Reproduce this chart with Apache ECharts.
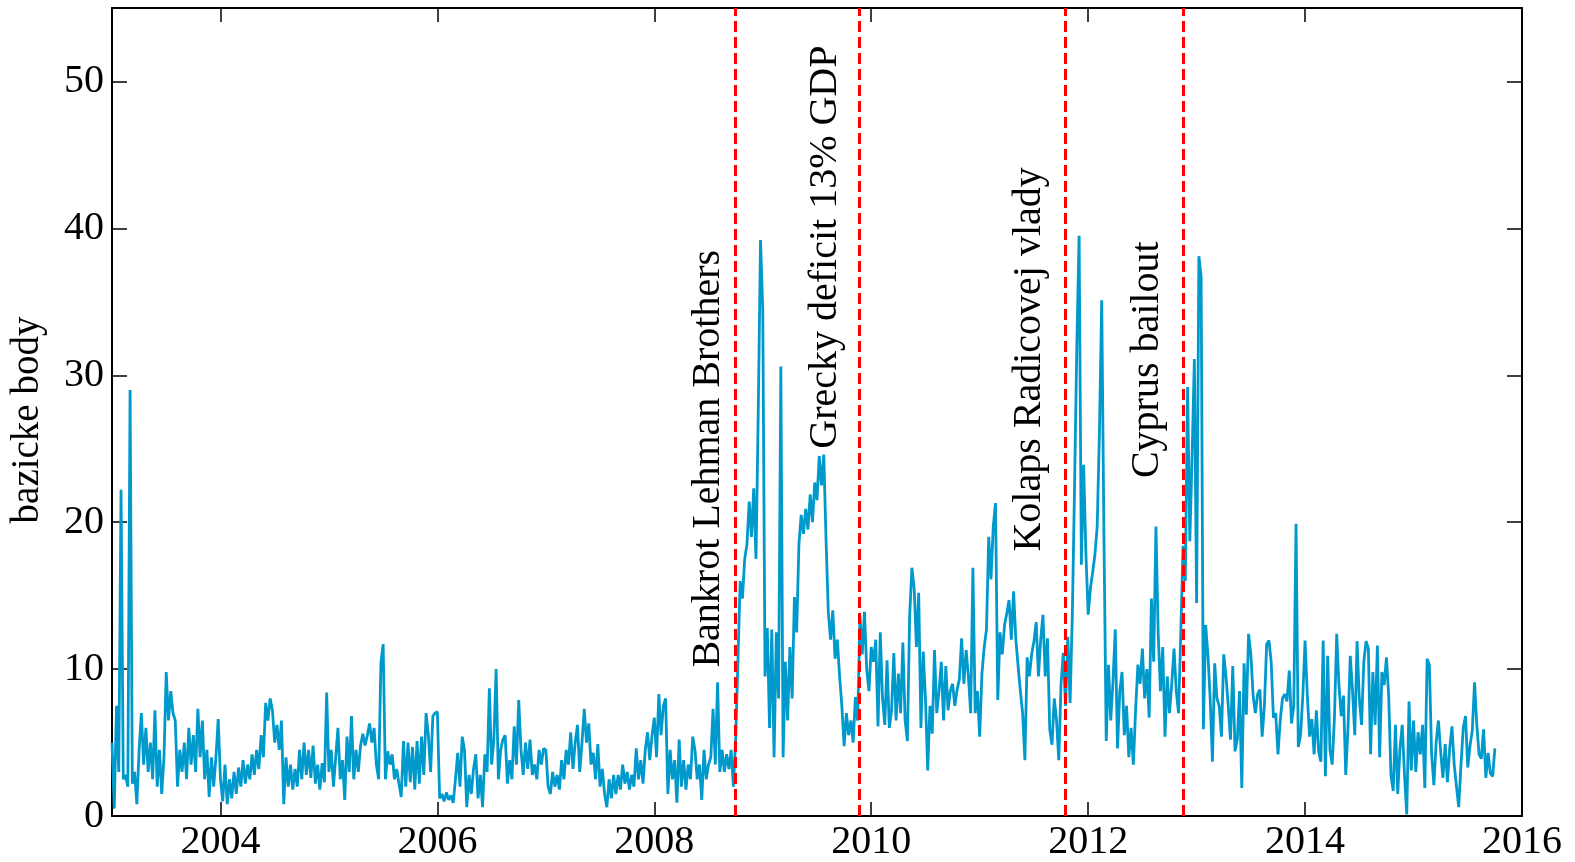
<!DOCTYPE html>
<html><head><meta charset="utf-8">
<script src="https://cdn.jsdelivr.net/npm/echarts@6/dist/echarts.min.js"></script>
<style>html,body{margin:0;padding:0;background:#fff}#c{width:1575px;height:862px}</style>
</head><body><div id="c"></div>
<script>
// ---- data (48 samples per year) ----
const startYear = 2003;
const stepsPerYear = 48;
const y2003 = [5,0.5,7.5,3,22.2,2.5,2.8,2,29,2.2,3,0.8,4.5,7,3.5,6,3,5,2.5,7.2,2,4.5,1.5,4,9.8,6.5,8.5,7,6.5,2,4.5,3,5,2.5,6,3.5,5.5,3,7.3,4,6.5,2.5,4.5,1.3,4,2,4,6.6];
const y2004 = [2.5,1,3.5,0.8,2.5,1.2,3,1.5,3.3,2,3.8,2.2,3.5,2.5,4.2,2.8,4.5,3.2,5.5,4,7.7,6.5,8,7.2,5,6.2,4.5,6.5,0.8,4,2,3.5,1.8,3.2,2,4.5,2.5,5,2.8,4.5,2.6,4.8,2.2,3.5,1.8,3.6,2.3,8.4];
const y2005 = [3,4.5,2,4,6,2.5,3.8,1.1,5.4,3,6.8,2.5,4.5,3,4.8,5.6,4.8,5.5,6.3,5,6,3.5,2.5,10.4,11.7,2.5,4.4,3.5,4.2,2.5,3.2,2.2,1.3,5.1,2,5,2.3,4.7,1.8,5.1,2.2,5.4,2.8,7,5.5,3,6.8,7];
const y2006 = [7.1,1.2,1.5,1,1.6,1.1,1.4,0.9,2.5,4.3,2,5.4,4.5,0.6,2.8,1.5,3.2,4.2,1.2,2.8,0.6,4.2,3,8.7,3.5,5.2,10,2.5,4.5,5.2,5.5,2.2,3.8,2.5,6.1,3.5,7.9,4.5,2.8,5,3.2,5.2,2.8,3.5,2.5,4.5,3.5,4.6];
const y2007 = [4.5,2,1.5,3,2,2.8,1.8,3.8,2.5,4.5,3.5,5.7,3.2,5,6.2,3,5,7.3,5,6.3,3.5,4.3,2.5,4.9,2,3.2,1.5,0.6,2.5,1.2,2.8,1.5,2.8,1.8,3.5,2.2,3,1.8,2.8,2,4.6,2.5,3.8,2.2,4.5,5.7,3.8,5.5];
const y2008 = [6.7,4,8.3,5.5,7.5,8,1.5,4.5,2.5,3.8,0.9,5.2,2,3.8,1.8,3.5,2.5,5.4,4.5,2.5,3.5,1.1,4.5,2.5,3.5,4,7.3,3.5,9.1,3,4.5,3,4.2,3.2,4.5,2,5.2,10.5,16,14.8,17.5,18.5,21.4,19,22.3,17.5,27.5,39.2];
const y2009 = [34.5,9.5,12.8,6,12.7,4,12.5,8,30.6,4,10.5,6.5,11.5,8,14.9,12.5,18.5,20.5,19.2,20.9,19.5,21.9,20,22.7,21.5,24.5,22.5,24.6,18.8,13.9,12,14,10.7,12,9.5,7.5,4.75,7,5.5,6.5,5,8.1,6.5,13.6,11,13.9,10,8.5];
const y2010 = [11.5,10.5,12,6.1,12.5,8,6.2,10.6,6,7.2,11.1,6.5,9.7,7,11.8,6.5,5.1,13.6,16.9,15.5,11.5,15.2,6,11.2,8,3.1,7.5,5.6,11.3,7,8.5,10.5,6.5,10.2,7.2,8.5,9,7.5,8.6,9.3,12.1,9,11.3,9.5,7,16.9,7,8.5];
const y2011 = [5.4,9.7,11.5,12.7,19,16.1,19.7,21.3,7.9,12.5,11,13,13.8,14.7,12,15.3,12,10.2,8.5,7,3.8,10.8,9.5,11,11.9,13.2,9.5,12,13.7,9.5,12.1,5.9,4.85,8,6.5,3.8,9,11.1,7.5,12.2,7.7,13.7,22.6,32.2,39.5,17.1,23.9,17.9];
const y2012 = [13.7,15.5,16.6,17.8,19.7,26.2,35.1,18.9,5.1,10.3,6.5,9.2,12.7,4.6,8.5,9.8,5.5,7.5,4,6,3.5,7.2,10.3,9,11.4,8,10,6.7,14.8,10.5,19.7,12.4,8.5,11.5,5.4,9.5,7,9,11.4,8.5,7,12.5,18.4,16,29.2,18.7,24.5,31.1];
const y2013 = [14.5,38.1,36.7,5.9,13,11,8,3.7,10.4,8,7.5,5.4,11,9.5,7.5,5.2,10.2,4.4,5.2,8.5,1.9,10.4,6.9,12.4,11,8.2,7,8.3,8.6,5.4,7.5,11.7,11.95,10.5,6.7,7,4.2,6.5,8,8.3,7.8,9.9,6.3,7.5,19.9,4.7,5.5,8.2];
const y2014 = [11.95,8.2,5.4,6.6,4.2,7.2,4.4,3.7,11.95,2.7,10.9,4.5,3.5,6.7,12.4,8.9,6.8,8.2,2.8,6,10.9,8.5,5.5,11.9,8,6.2,10.5,11.9,11.4,4.2,9.8,6.2,11.6,4,9.8,8.9,10.8,8.2,2.8,1.7,6.2,1.5,4.6,6.2,2.8,0.1,7.8,3.1];
const y2015 = [6.5,3,5.7,4.2,6.2,1.9,10.7,10.3,4.2,2.1,5,6.5,4.4,2.6,4.9,2.3,4.6,6.1,3.5,2,0.6,3.5,6,6.8,3.3,4.8,5.8,9.1,6.2,4.2,3.9,5.9,2.6,4.3,2.9,2.7,4.6];

const xTicks = [2004, 2006, 2008, 2010, 2012, 2014, 2016];
const yTicks = [0, 10, 20, 30, 40, 50];
const eventNames = ['Bankrot Lehman Brothers', 'Grecky deficit 13% GDP', 'Kolaps Radicovej vlady', 'Cyprus bailout'];
const eventDates = [2008.749, 2009.886, 2011.794, 2012.885];
const eventLabelValues = [10.1, 25.0, 18.0, 23.0];

// ---- build series ----
const yearBlocks = [y2003, y2004, y2005, y2006, y2007, y2008, y2009, y2010, y2011, y2012, y2013, y2014, y2015];
const seriesData = [];
yearBlocks.forEach((arr, k) => arr.forEach((v, i) => seriesData.push([startYear + k + i / stepsPerYear, v])));

const FONT = 'Liberation Serif';
const axisLineStyle = { color: '#000', width: 2 };
const tickStyle = { color: '#000', width: 1.5 };

const chart = echarts.init(document.getElementById('c'), null, { renderer: 'canvas' });
const option = {
  animation: false,
  backgroundColor: '#fff',
  grid: { left: 110, right: 53, top: 8, bottom: 46 },
  xAxis: [{
    type: 'value', min: 2003, max: 2016, position: 'bottom',
    axisLine: { show: true, onZero: false, lineStyle: axisLineStyle },
    axisTick: { show: true, inside: true, length: 14, customValues: xTicks, lineStyle: tickStyle },
    axisLabel: { show: true, customValues: xTicks, margin: 6, color: '#000', fontFamily: FONT, fontSize: 40, formatter: v => String(v) },
    splitLine: { show: false }
  }, {
    type: 'value', min: 2003, max: 2016, position: 'top',
    axisLine: { show: true, onZero: false, lineStyle: axisLineStyle },
    axisTick: { show: true, inside: true, length: 14, customValues: xTicks, lineStyle: tickStyle },
    axisLabel: { show: false },
    splitLine: { show: false }
  }],
  yAxis: [{
    type: 'value', min: 0, max: 55, position: 'left',
    name: 'bazicke body', nameLocation: 'middle', nameGap: 65,
    nameTextStyle: { fontFamily: FONT, fontSize: 39, color: '#000', padding: [0, 16, 0, 0] },
    axisLine: { show: true, onZero: false, lineStyle: axisLineStyle },
    axisTick: { show: true, inside: true, length: 15, customValues: yTicks, lineStyle: tickStyle },
    axisLabel: { show: true, customValues: yTicks, margin: 8, color: '#000', fontFamily: FONT, fontSize: 40, formatter: v => String(v) },
    splitLine: { show: false }
  }, {
    type: 'value', min: 0, max: 55, position: 'right',
    axisLine: { show: true, onZero: false, lineStyle: axisLineStyle },
    axisTick: { show: true, inside: true, length: 15, customValues: yTicks, lineStyle: tickStyle },
    axisLabel: { show: false },
    splitLine: { show: false }
  }],
  series: [{
    type: 'line',
    data: seriesData,
    xAxisIndex: 0, yAxisIndex: 0,
    showSymbol: false, symbol: 'none',
    lineStyle: { color: '#0099cc', width: 2.8 },
    emphasis: { disabled: true },
    markLine: {
      silent: true, symbol: ['none', 'none'],
      label: { show: false },
      emphasis: { disabled: true },
      lineStyle: { color: '#ff0000', type: [11, 5], width: 3 },
      data: eventDates.map(d => ({ xAxis: d }))
    }
  }]
};
chart.setOption(option);

const labelGaps = [7, 13, 16, 17];
const graphics = eventNames.map((name, k) => {
  const p = chart.convertToPixel({ xAxisIndex: 0, yAxisIndex: 0 }, [eventDates[k], eventLabelValues[k]]);
  return {
    type: 'text', x: p[0] - labelGaps[k], y: p[1], rotation: Math.PI / 2, z: 100,
    style: { text: name, fontFamily: FONT, fontSize: 40, fill: '#000', align: 'left', verticalAlign: 'bottom' }
  };
});
chart.setOption({ graphic: graphics });
</script>
</body></html>
